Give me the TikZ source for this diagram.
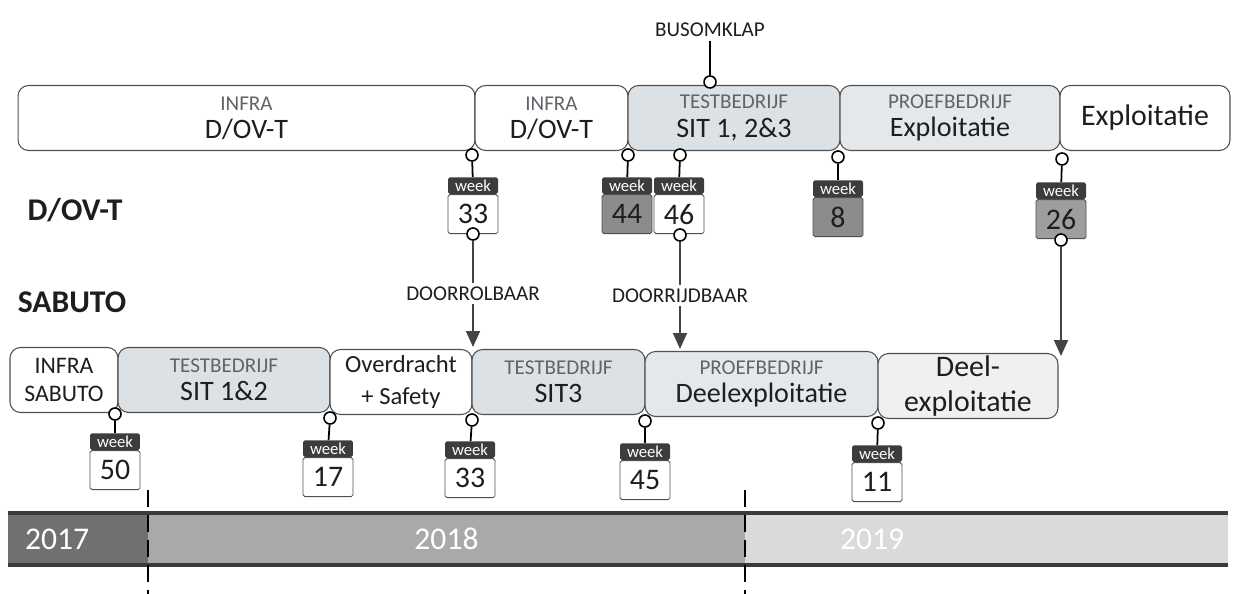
\documentclass[tikz,border=0pt]{standalone}
\usepackage{fontspec}
\setmainfont{Carlito}
\usetikzlibrary{arrows.meta,positioning}
\definecolor{txt}{HTML}{1E1E1E}
\definecolor{labgray}{HTML}{606468}
\definecolor{boxline}{HTML}{505050}
\definecolor{testgray}{HTML}{DCE1E5}
\definecolor{proefgray}{HTML}{E5E8EB}
\definecolor{deelgray}{HTML}{EEF0F2}
\definecolor{wkdark}{HTML}{3C3C3C}
\definecolor{wkmid}{HTML}{8C8C8C}
\definecolor{wklight}{HTML}{9E9E9E}
\definecolor{arrowgray}{HTML}{444444}
\definecolor{yr17}{HTML}{707070}
\definecolor{yr18}{HTML}{A9A9A9}
\definecolor{yr19}{HTML}{DADADA}
\definecolor{bardark}{HTML}{3A3A3A}
\newcommand{\kop}[1]{{\fontsize{12}{14}\selectfont\color{labgray}#1}}

\begin{document}
\begin{tikzpicture}[
  x=0.02cm, y=-0.02cm,
  every node/.style={font=\fontsize{16}{16}\selectfont, text=txt},
  phase/.style={
    draw=boxline,
    line width=0.6pt,
    rounded corners=6pt,
    fill=white,
    minimum height=1.3cm,
    inner sep=1pt,
    align=center
  },
  test/.style={phase, fill=testgray},
  proef/.style={phase, fill=proefgray},
  pin/.style={circle, draw=black, fill=white, line width=0.9pt, minimum size=0.24cm, inner sep=0pt},
  wkhead/.style={fill=wkdark, text=white, font=\fontsize{9.5}{10}\selectfont,
    minimum width=1cm, minimum height=0.33cm, inner sep=0pt, rounded corners=1pt, anchor=north},
  wkbody/.style={draw=boxline, line width=0.5pt, fill=white, minimum width=1cm,
    minimum height=0.78cm, inner sep=0pt, rounded corners=1pt, font=\fontsize{17}{17}\selectfont},
  stem/.style={line width=1pt, draw=black},
  drop/.style={line width=1pt, draw=arrowgray, -{Triangle[width=0.28cm,length=0.32cm]}},
  cue/.style={fill=white, inner sep=2pt, font=\fontsize{12}{14}\selectfont},
  side/.style={font=\fontsize{18}{20}\selectfont\bfseries},
  year/.style={minimum height=1.04cm, inner sep=0pt, text=white, font=\fontsize{18}{18}\selectfont},
  split/.style={line width=1.1pt, dash pattern=on 0.34cm off 0.16cm}
]
\useasboundingbox (0,0) rectangle (1234,594);

% side labels
\node[side] (lbdovt) at (75,210) {D/OV-T};
\node[side] (lbsab) at (72,302) {SABUTO};

% D/OV-T row
\node[phase, minimum width=9.14cm] (a1) at (246.5,118) {\kop{INFRA}\\ D/OV-T};
\node[phase, minimum width=3.06cm] (a2) at (551.5,118) {\kop{INFRA}\\ D/OV-T};
\node[test, minimum width=4.24cm] (a3) at (734,118) {\kop{TESTBEDRIJF}\\ SIT 1, 2\&3};
\node[proef, minimum width=4.4cm] (a4) at (950,118) {\kop{PROEFBEDRIJF}\\ Exploitatie};
\node[phase, minimum width=3.4cm, font=\fontsize{17}{17}\selectfont] (a5) at (1145,118) {Exploitatie};

% busomklap
\node[cue] (bus) at (710,30) {BUSOMKLAP};
\node[pin] (pbus) at (710,82) {};
\draw[stem] (bus) -- (pbus);

% D/OV-T milestones
\node[pin] (pa33) at (472,155) {};
\node[pin] (pa44) at (628,155) {};
\node[pin] (pa46) at (680,155) {};
\node[pin] (pa8) at (838,157) {};
\node[pin] (pa26) at (1062,159) {};
\node[wkhead] (ha33) at (473,177) {week};
\node[wkbody, below=0pt of ha33] (ta33) {33};
\node[wkhead] (ha44) at (627,177) {week};
\node[wkbody, fill=wkmid, below=0pt of ha44] (ta44) {44};
\node[wkhead] (ha46) at (679,177) {week};
\node[wkbody, below=0pt of ha46] (ta46) {46};
\node[wkhead] (ha8) at (838,180) {week};
\node[wkbody, fill=wkmid, below=0pt of ha8] (ta8) {8};
\node[wkhead] (ha26) at (1061,182) {week};
\node[wkbody, fill=wklight, below=0pt of ha26] (ta26) {26};
\draw[stem] (pa33) -- (ha33);
\draw[stem] (pa44) -- (ha44);
\draw[stem] (pa46) -- (ha46);
\draw[stem] (pa8) -- (ha8);
\draw[stem] (pa26) -- (ha26);

% handovers to SABUTO
\node[pin] (qa33) at (473,234) {};
\node[pin] (qa46) at (680,235) {};
\node[pin] (qa26) at (1061,240) {};
\coordinate (ea33) at (473,347);
\coordinate (ea46) at (680,349);
\coordinate (ea26) at (1061,356);
\draw[drop] (qa33) -- node[cue, pos=0.5] {DOORROLBAAR} (ea33);
\draw[drop] (qa46) -- node[cue, pos=0.5] {DOORRIJDBAAR} (ea46);
\draw[drop] (qa26) -- (ea26);

% SABUTO row
\node[phase, minimum width=2.16cm, font=\fontsize{13.5}{16}\selectfont] (b1) at (64,380) {INFRA\\ SABUTO};
\node[test, minimum width=4.24cm] (b2) at (224,380) {\kop{TESTBEDRIJF}\\ SIT 1\&2};
\node[phase, minimum width=2.84cm, font=\fontsize{14}{18}\selectfont] (b3) at (401,382) {Overdracht\\ + Safety};
\node[test, minimum width=3.46cm] (b4) at (558.5,382) {\kop{TESTBEDRIJF}\\ SIT3};
\node[proef, minimum width=4.66cm] (b5) at (761.5,384) {\kop{PROEFBEDRIJF}\\ Deelexploitatie};
\node[phase, fill=deelgray, minimum width=3.6cm, font=\fontsize{17}{20}\selectfont] (b6) at (968,386) {Deel-\\ exploitatie};

% SABUTO milestones
\node[pin] (pb50) at (115,414) {};
\node[pin] (pb17) at (330,418) {};
\node[pin] (pb33) at (472,420) {};
\node[pin] (pb45) at (645,421) {};
\node[pin] (pb11) at (878,423) {};
\node[wkhead] (hb50) at (115,433) {week};
\node[wkbody, below=0pt of hb50] (tb50) {50};
\node[wkhead] (hb17) at (328,440) {week};
\node[wkbody, below=0pt of hb17] (tb17) {17};
\node[wkhead] (hb33) at (470,441) {week};
\node[wkbody, below=0pt of hb33] (tb33) {33};
\node[wkhead] (hb45) at (645,443) {week};
\node[wkbody, below=0pt of hb45] (tb45) {45};
\node[wkhead] (hb11) at (877,445) {week};
\node[wkbody, below=0pt of hb11] (tb11) {11};
\draw[stem] (pb50) -- (hb50);
\draw[stem] (pb17) -- (hb17);
\draw[stem] (pb33) -- (hb33);
\draw[stem] (pb45) -- (hb45);
\draw[stem] (pb11) -- (hb11);

% year bar
\node[year, fill=yr17, minimum width=2.8cm, text width=2.12cm, align=left] (y17) at (78,539) {2017};
\node[year, fill=yr18, minimum width=11.94cm] (y18) at (446.5,539) {2018};
\node[year, fill=yr19, minimum width=9.66cm, text width=5.86cm, align=left] (y19) at (986.5,539) {2019};
\draw[line width=2.2pt, draw=bardark] (y17.north west) -- (y19.north east);
\draw[line width=2.2pt, draw=bardark] (y17.south west) -- (y19.south east);

% year borders
\coordinate (s1a) at (148,490);
\coordinate (s1b) at (148,594);
\coordinate (s2a) at (745,490);
\coordinate (s2b) at (745,594);
\draw[split] (s1a) -- (s1b);
\draw[split] (s2a) -- (s2b);
\end{tikzpicture}
\end{document}
